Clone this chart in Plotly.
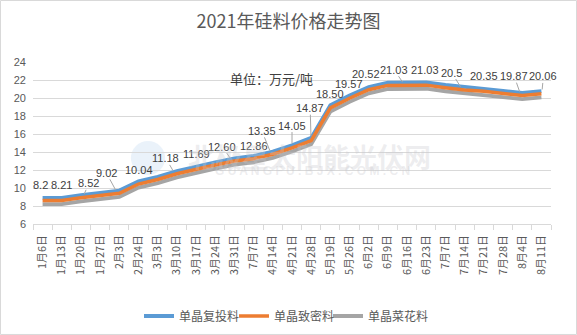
import plotly.graph_objects as go

dates = ["1月6日", "1月13日", "1月20日", "1月27日", "2月3日", "2月24日", "3月3日", "3月10日",
         "3月17日", "3月24日", "3月31日", "7月7日", "4月14日", "4月21日", "4月28日", "5月19日",
         "5月26日", "6月2日", "6月9日", "6月16日", "6月23日", "7月7日", "7月14日", "7月21日",
         "7月28日", "8月4日", "8月11日"]

futou = [8.9, 8.91, 9.22, 9.45, 9.72, 10.74, 11.25, 11.88, 12.39, 12.85, 13.3, 13.56, 14.05, 14.75,
         15.57, 19.2, 20.27, 21.22, 21.7, 21.73, 21.73, 21.45, 21.2, 21.05, 20.8, 20.57, 20.76]
zhimi = [8.6, 8.61, 8.92, 9.15, 9.42, 10.44, 10.95, 11.58, 12.09, 12.55, 13.0, 13.26, 13.75, 14.45,
         15.27, 18.9, 19.97, 20.92, 21.4, 21.43, 21.43, 21.15, 20.9, 20.75, 20.5, 20.27, 20.46]
caihua = [8.2, 8.21, 8.52, 8.75, 9.02, 10.04, 10.55, 11.18, 11.69, 12.15, 12.60, 12.86, 13.35, 14.05,
          14.87, 18.50, 19.57, 20.52, 21.0, 21.03, 21.03, 20.75, 20.5, 20.35, 20.1, 19.87, 20.06]
labels = ["8.2", "8.21", "8.52", "", "9.02", "10.04", "", "11.18", "11.69", "", "12.60", "12.86",
          "13.35", "14.05", "14.87", "18.50", "19.57", "20.52", "", "21.03", "21.03", "", "20.5",
          "20.35", "", "19.87", "20.06"]

# label placement (pixel offsets, leader line visible)
label_style = {
    0: (-2, -19, False), 1: (0, -19, False), 2: (8, -18, True), 4: (-13, -24, True),
    5: (0, -18, False), 7: (-11, -19, True), 8: (0, -19, False), 10: (-12, -18, True),
    11: (0, -16, False), 12: (-11, -27, True), 13: (0, -26, True), 14: (-1, -36, True),
    15: (0, -18, False), 16: (-1, -18, False), 17: (-3, -19, False), 19: (-13, -19, True),
    20: (-1, -19, False), 22: (-13, -21, True), 23: (0, -19, False), 25: (-8, -23, True),
    26: (2, -21, True),
}

xs = list(range(len(dates)))
FONT = "Noto Sans CJK SC"

fig = go.Figure()
fig.add_trace(go.Scatter(x=xs, y=futou, mode="lines", name="单晶复投料", legend="legend",
                         line=dict(color="#5B9BD5", width=3.8)))
fig.add_trace(go.Scatter(x=xs, y=caihua, mode="lines", name="单晶菜花料", legend="legend3",
                         line=dict(color="#A5A5A5", width=3.8)))
fig.add_trace(go.Scatter(x=xs, y=zhimi, mode="lines", name="单晶致密料", legend="legend2",
                         line=dict(color="#ED7D31", width=3.5)))

annotations = []
for i, t in enumerate(labels):
    if not t:
        continue
    ax, ay, leader = label_style[i]
    annotations.append(dict(
        x=xs[i], y=caihua[i], xref="x", yref="y", text=t, showarrow=True,
        ax=ax, ay=ay, arrowhead=0, arrowwidth=1, standoff=8, borderpad=0,
        arrowcolor="#a6a6a6" if leader else "rgba(0,0,0,0)",
        font=dict(family="Liberation Sans", size=11, color="#404040")))

annotations.append(dict(x=0.461, y=0.971, xref="paper", yref="paper", text="单位：万元/吨",
                        showarrow=False, font=dict(family=FONT, size=13, color="#404040")))
annotations.append(dict(x=0.533, y=0.414, xref="paper", yref="paper", text="<b>北极星太阳能光伏网</b>",
                        showarrow=False, borderpad=0,
                        font=dict(family=FONT, size=27, color="rgba(200,200,205,0.33)")))
annotations.append(dict(x=0.539, y=0.278, xref="paper", yref="paper",
                        text="<b>G U A N G F U . B J X . C O M . C N</b>",
                        showarrow=False, borderpad=0,
                        font=dict(family="Liberation Sans", size=12,
                                  color="rgba(200,200,205,0.33)")))

leg_common = dict(orientation="h", xanchor="left", xref="container",
                  y=1 - 316 / 335, yanchor="middle", yref="container",
                  font=dict(family=FONT, size=12, color="#595959"), itemwidth=30,
                  bgcolor="rgba(0,0,0,0)", borderwidth=0)

fig.update_layout(
    width=577, height=335,
    margin=dict(l=33, r=26, t=62, b=111, autoexpand=False),
    paper_bgcolor="white", plot_bgcolor="white",
    font=dict(family=FONT, color="#595959"),
    title=dict(text="2021年硅料价格走势图", x=0.5, xanchor="center", y=1 - 21.5 / 335,
               yanchor="middle", font=dict(family=FONT, size=18, color="#595959")),
    showlegend=True,
    legend=dict(x=139 / 577, **leg_common),
    legend2=dict(x=234 / 577, **leg_common),
    legend3=dict(x=328 / 577, **leg_common),
    annotations=annotations,
    shapes=[
        dict(type="rect", xref="paper", yref="paper", x0=-0.0627, x1=1.0492, y0=-0.682, y1=1.3796,
             line=dict(color="#d9d9d9", width=1), layer="below"),
        dict(type="circle", xref="paper", yref="paper", x0=0.189, x1=0.255, y0=0.302, y1=0.512,
             fillcolor="rgba(91,155,213,0.13)", line=dict(width=0), layer="below"),
    ],
)

fig.update_xaxes(
    range=[-0.5, len(dates) - 0.5], tickmode="array", tickvals=xs, ticktext=dates,
    tickangle=-90, ticks="", showgrid=False, zeroline=False,
    showline=True, linecolor="#d9d9d9", linewidth=1,
    tickfont=dict(family=FONT, size=10.8, color="#595959"), ticklabelstandoff=6,
    minor=dict(tickmode="array", tickvals=[i - 0.5 for i in range(len(dates) + 1)],
               ticks="outside", ticklen=5, tickcolor="#d9d9d9", tickwidth=1, showgrid=False),
)
fig.update_yaxes(
    range=[6, 24], dtick=2, tick0=6, showgrid=True, gridcolor="#d9d9d9", gridwidth=1,
    zeroline=False, showline=False, ticks="",
    tickfont=dict(family="Liberation Sans", size=11, color="#595959"), ticklabelstandoff=6,
)

fig.write_html("out.html")
